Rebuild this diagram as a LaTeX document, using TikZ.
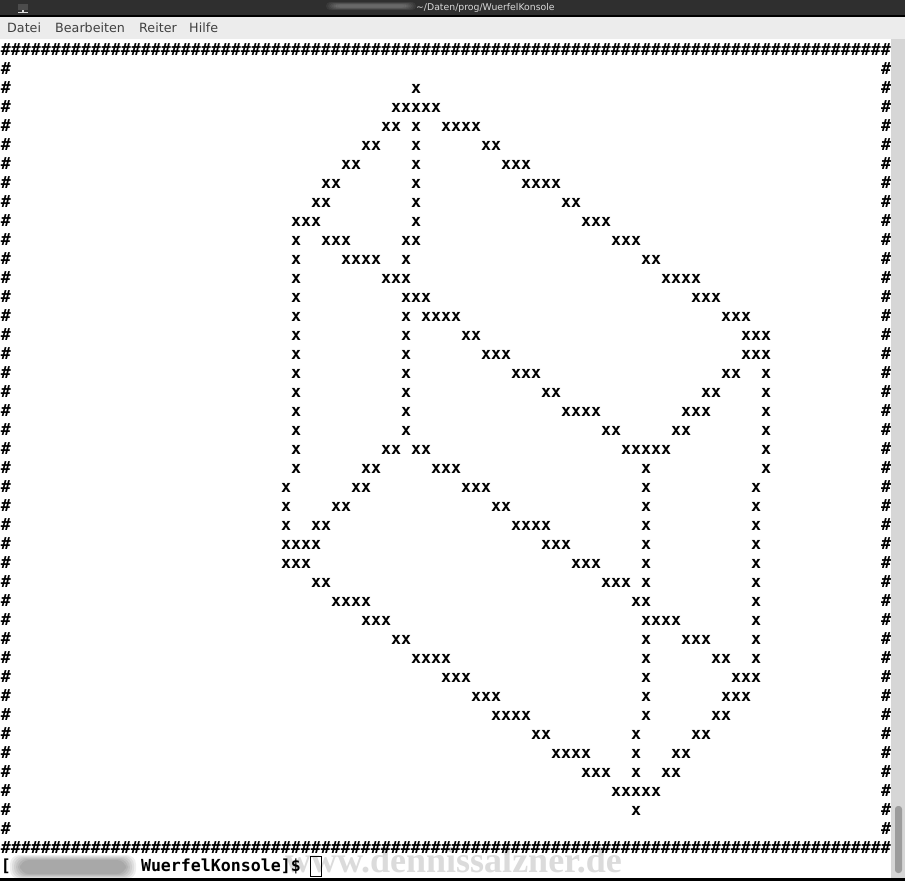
\documentclass[tikz,border=0pt]{standalone}
\usepackage{fontspec}
\setmainfont{DejaVu Sans}
\newfontfamily\termfont{DejaVu Sans Mono}
\newfontfamily\markfont{Liberation Serif}
\definecolor{titlebar}{HTML}{2F2F2F}
\definecolor{menubar}{HTML}{ECECEC}
\definecolor{scrolltrack}{HTML}{D6D6D6}
\definecolor{scrollthumb}{HTML}{9C9C9C}
\begin{document}
\begin{tikzpicture}[x=1pt,y=-1pt,
		char node/.style={anchor=base west,inner sep=0pt,outer sep=0pt,text=black,font=\termfont\bfseries\fontsize{16.61}{19}\selectfont},
		menu node/.style={anchor=base west,inner sep=0pt,text=black!75,font=\fontsize{12.7}{15}\selectfont}]
		\useasboundingbox (0,0) rectangle (905,881);
		
		\fill[white] (0,0) rectangle (905,881);
		\fill[titlebar] (0,0) rectangle (905,15);
		\fill[black] (0,15) rectangle (905,17);
		\fill[menubar] (0,17) rectangle (905,39);
		\fill[scrolltrack] (891,39) rectangle (905,878);
		\fill[scrollthumb,rounded corners=3pt] (895,806) rectangle (902,873);
		\fill[black] (0,878) rectangle (905,881);
		
		\fill[black!70] (18,4) rectangle (28,10);
		\fill[white!85!black] (22,10) rectangle (24,12);
		\fill[white!85!black] (18,12) rectangle (28,13);
		\foreach \s in {0,...,5}{
			\fill[white,opacity=0.055,rounded corners=4pt] ({326+2*\s},{2+0.5*\s}) rectangle ({416-2*\s},{10-0.5*\s});
			\fill[black,opacity=0.065,rounded corners=9pt] ({10+2*\s},{855+\s}) rectangle ({136-2*\s},{879-\s});
		}
		
		\node[menu node] (datei) at (7,32) {Datei};
		\node[menu node] (bearbeiten) at (55,32) {Bearbeiten};
		\node[menu node] (reiter) at (139,32) {Reiter};
		\node[menu node] (hilfe) at (189,32) {Hilfe};
		\node[anchor=base west,inner sep=0pt,text=black!15,font=\fontsize{9.3}{11}\selectfont] (pfad) at (416,10) {\textasciitilde/Daten/prog/WuerfelKonsole};
		
		\node[anchor=base west,inner sep=0pt,text=black!14,font=\markfont\bfseries\fontsize{36}{38}\selectfont] (marke) at (285,872.5) {www.dennissalzner.de};
		
		\node[char node] (oben) at (1,55.5) {\foreach \c in {0,...,88}{\#}};
		\node[char node] (unten) at (1,853.5) {\foreach \c in {0,...,88}{\#}};
		\foreach \r in {1,...,41}{
			\node[char node] (links\r) at (1,{55.5+19*\r}) {\#};
			\node[char node] (rechts\r) at (881,{55.5+19*\r}) {\#};
		}
		
		\foreach \r/\c/\t in {
			2/41/x,
			3/39/xxxxx,
			4/38/xx,4/41/x,4/44/xxxx,
			5/36/xx,5/41/x,5/48/xx,
			6/34/xx,6/41/x,6/50/xxx,
			7/32/xx,7/41/x,7/52/xxxx,
			8/31/xx,8/41/x,8/56/xx,
			9/29/xxx,9/41/x,9/58/xxx,
			10/29/x,10/32/xxx,10/40/xx,10/61/xxx,
			11/29/x,11/34/xxxx,11/40/x,11/64/xx,
			12/29/x,12/38/xxx,12/66/xxxx,
			13/29/x,13/40/xxx,13/69/xxx,
			14/29/x,14/40/x,14/42/xxxx,14/72/xxx,
			15/29/x,15/40/x,15/46/xx,15/74/xxx,
			16/29/x,16/40/x,16/48/xxx,16/74/xxx,
			17/29/x,17/40/x,17/51/xxx,17/72/xx,17/76/x,
			18/29/x,18/40/x,18/54/xx,18/70/xx,18/76/x,
			19/29/x,19/40/x,19/56/xxxx,19/68/xxx,19/76/x,
			20/29/x,20/40/x,20/60/xx,20/67/xx,20/76/x,
			21/29/x,21/38/xx,21/41/xx,21/62/xxxxx,21/76/x,
			22/29/x,22/36/xx,22/43/xxx,22/64/x,22/76/x,
			23/28/x,23/35/xx,23/46/xxx,23/64/x,23/75/x,
			24/28/x,24/33/xx,24/49/xx,24/64/x,24/75/x,
			25/28/x,25/31/xx,25/51/xxxx,25/64/x,25/75/x,
			26/28/xxxx,26/54/xxx,26/64/x,26/75/x,
			27/28/xxx,27/57/xxx,27/64/x,27/75/x,
			28/31/xx,28/60/xxx,28/64/x,28/75/x,
			29/33/xxxx,29/63/xx,29/75/x,
			30/36/xxx,30/64/xxxx,30/75/x,
			31/39/xx,31/64/x,31/68/xxx,31/75/x,
			32/41/xxxx,32/64/x,32/71/xx,32/75/x,
			33/44/xxx,33/64/x,33/73/xxx,
			34/47/xxx,34/64/x,34/72/xxx,
			35/49/xxxx,35/64/x,35/71/xx,
			36/53/xx,36/63/x,36/69/xx,
			37/55/xxxx,37/63/x,37/67/xx,
			38/58/xxx,38/63/x,38/66/xx,
			39/61/xxxxx,
			40/63/x}{
			\node[char node] (w\r-\c) at ({10*\c+1},{55.5+19*\r}) {\t};
		}
		
		\node[char node] (klammer) at (1,871.7) {[};
		\node[char node] (prompt) at (141,871.7) {WuerfelKonsole]\$};
		\node[draw=black,line width=1pt,minimum width=11pt,minimum height=20pt,inner sep=0pt] (cursor) at (316,866.5) {};
\end{tikzpicture}
\end{document}
